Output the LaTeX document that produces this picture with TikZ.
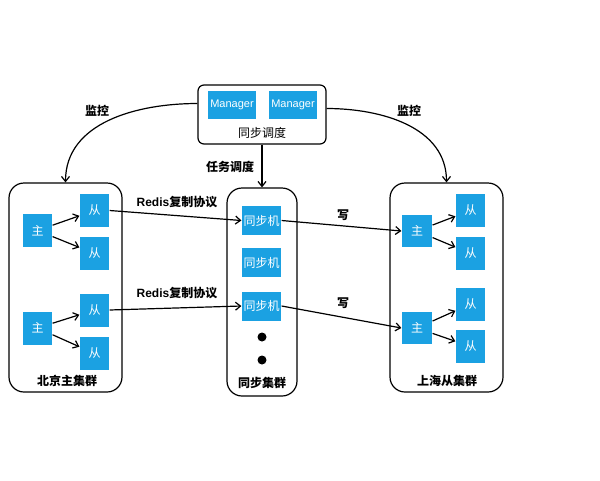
\documentclass[tikz,border=0pt]{standalone}
\usepackage{fontspec}
\setmainfont{Noto Sans CJK SC}
\newfontfamily\latinfont{Liberation Sans}
\usetikzlibrary{arrows.meta}
\definecolor{boxblue}{HTML}{1BA1E2}

\begin{document}
\begin{tikzpicture}[x=1pt,y=-1pt,line width=1.2pt,
  blk/.style={fill=boxblue,text=white,inner sep=0pt,minimum width=29pt,minimum height=33pt,font=\fontsize{12}{13}\selectfont},
  syncblk/.style={blk,minimum width=39pt,minimum height=29pt},
  mgblk/.style={blk,minimum width=48pt,minimum height=28pt,font=\latinfont\fontsize{11}{13}\selectfont},
  grp/.style={draw,rounded corners=15pt,minimum width=113pt,minimum height=209pt},
  lbl/.style={font=\bfseries\fontsize{12}{13}\selectfont},
  arr/.style={-{Straight Barb[length=5pt,width=8pt]}}]
\useasboundingbox (0,0) rectangle (600,480);

% clusters
\node[grp] (bj) at (65.5,287.5) {};
\node[grp,minimum width=70pt,minimum height=208pt] (sync) at (262,292) {};
\node[grp] (sh) at (446.5,287.5) {};
\node[lbl] (bjname) at (67,381) {北京主集群};
\node[lbl] (syncname) at (262,383) {同步集群};
\node[lbl] (shname) at (447,381) {上海从集群};

% scheduler
\node[draw,rounded corners=6pt,minimum width=128pt,minimum height=59pt] (sched) at (262,114.5) {};
\node[mgblk] (mg1) at (232,105) {Manager};
\node[mgblk] (mg2) at (293,105) {Manager};
\node[font=\fontsize{12}{13}\selectfont] (schedname) at (262,133) {同步调度};

% beijing master cluster
\node[blk] (bjm1) at (37.5,230.5) {主};
\node[blk] (bjs1) at (94.5,210.5) {从};
\node[blk] (bjs2) at (94.5,253.5) {从};
\node[blk] (bjm2) at (37.5,328) {主};
\node[blk] (bjs3) at (94.5,310) {从};
\node[blk] (bjs4) at (94.5,353.5) {从};

% sync machines
\node[syncblk] (sy1) at (261.5,220.5) {同步机};
\node[syncblk] (sy2) at (261.5,262.5) {同步机};
\node[syncblk] (sy3) at (261.5,306) {同步机};
\fill (262,337) circle (4.5pt);
\fill (262,360) circle (4.5pt);

% shanghai slave cluster
\node[blk,minimum width=30pt,minimum height=32pt] (shm1) at (417,231) {主};
\node[blk] (shs1) at (470.5,210.5) {从};
\node[blk] (shs2) at (470.5,253.5) {从};
\node[blk,minimum width=30pt,minimum height=32pt] (shm2) at (417,328) {主};
\node[blk] (shs3) at (470.5,304) {从};
\node[blk] (shs4) at (470.5,346.5) {从};

% connectors
\draw[arr] (bjm1) -- (bjs1);
\draw[arr] (bjm1) -- (bjs2);
\draw[arr] (bjm2) -- (bjs3);
\draw[arr] (bjm2) -- (bjs4);
\draw[arr] (shm1) -- (shs1);
\draw[arr] (shm1) -- (shs2);
\draw[arr] (shm2) -- (shs3);
\draw[arr] (shm2) -- (shs4);

\draw[arr] (bjs1.east) -- (sy1.west);
\draw[arr] (bjs3.east) -- (sy3.west);
\draw[arr] (sy1.east) -- (shm1.west);
\draw[arr] (sy3.east) -- (shm2.west);
\node[lbl] (redis1) at (177,202) {{\latinfont\bfseries Redis}复制协议};
\node[lbl] (redis2) at (177,293) {{\latinfont\bfseries Redis}复制协议};
\node[lbl] (write1) at (343,215) {写};
\node[lbl] (write2) at (343,303) {写};

\draw[arr] (sched.south) -- (sync.north);
\node[lbl,anchor=east] (task) at (258,167) {任务调度};

\draw[arr] ([yshift=11pt]sched.west) to[out=180,in=90] (bj.north);
\draw[arr] ([yshift=6pt]sched.east) to[out=0,in=90] (sh.north);
\node[lbl] (mon1) at (97,111) {监控};
\node[lbl] (mon2) at (409,111) {监控};
\end{tikzpicture}
\end{document}
